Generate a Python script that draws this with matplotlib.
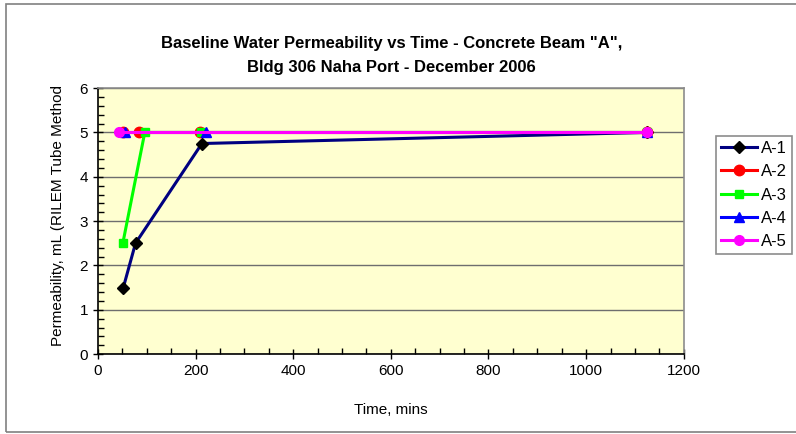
import matplotlib
matplotlib.use('Agg')
import matplotlib.pyplot as plt
from matplotlib.patches import Rectangle
from matplotlib.ticker import MultipleLocator

plt.rcParams['font.family'] = ['Liberation Sans', 'DejaVu Sans']

# ── Data ──────────────────────────────────────────────────
a1_t = [52, 77, 213, 1125]
a1_p = [1.5, 2.5, 4.75, 5.0]
a2_t = [51, 84, 209, 1125]
a2_p = [5.0, 5.0, 5.0, 5.0]
a3_t = [51, 96, 211, 1125]
a3_p = [2.5, 5.0, 5.0, 5.0]
a4_t = [55, 222, 1125]
a4_p = [5.0, 5.0, 5.0]
a5_t = [43, 1125]
a5_p = [5.0, 5.0]

series = [
    ('A-1', a1_t, a1_p, '#000080', 'D', 'black', 6.5),
    ('A-2', a2_t, a2_p, '#FF0000', 'o', '#FF0000', 7.5),
    ('A-3', a3_t, a3_p, '#00FF00', 's', '#00FF00', 6),
    ('A-4', a4_t, a4_p, '#0000FF', '^', '#0000FF', 7),
    ('A-5', a5_t, a5_p, '#FF00FF', 'o', '#FF00FF', 7),
]

fig = plt.figure(figsize=(7.96, 4.34), dpi=100)
fig.patches.append(Rectangle((0.008, 0.005), 1.2, 0.985, transform=fig.transFigure,
                             fill=False, edgecolor='#808080', linewidth=1.2))

ax = fig.add_axes([0.123, 0.184, 0.736, 0.613])
ax.set_facecolor('#FFFFD0')

for lbl, t, p, c, m, mc, ms in series:
    ax.plot(t, p, color=c, linewidth=2.2, marker=m, markersize=ms,
            markerfacecolor=mc, markeredgecolor=mc, label=lbl, zorder=3)

ax.set_xlim(0, 1200)
ax.set_ylim(0, 6)
ax.xaxis.set_major_locator(MultipleLocator(200))
ax.xaxis.set_minor_locator(MultipleLocator(50))
ax.yaxis.set_major_locator(MultipleLocator(1))
ax.yaxis.set_minor_locator(MultipleLocator(0.2))
ax.tick_params(which='major', direction='inout', length=7, width=1, labelsize=11)
ax.tick_params(which='minor', direction='in', length=4, width=1)
ax.grid(axis='y', which='major', color='#6e6e6e', linewidth=1, zorder=1)
ax.set_axisbelow(True)

for s in ['top', 'right']:
    ax.spines[s].set_color('#8c8c8c')
    ax.spines[s].set_linewidth(1.2)
for s in ['left', 'bottom']:
    ax.spines[s].set_color('black')
    ax.spines[s].set_linewidth(1.2)

ax.set_xlabel('Time, mins', fontsize=11, labelpad=18)
ax.set_ylabel('Permeability, mL (RILEM Tube Method', fontsize=11)
ax.yaxis.set_label_coords(-0.057, 0.52)

fig.text(0.492, 0.872, 'Baseline Water Permeability vs Time - Concrete Beam "A",\nBldg 306 Naha Port - December 2006',
         ha='center', va='center', fontsize=12, fontweight='bold', linespacing=1.7)

leg = ax.legend(loc='upper left', bbox_to_anchor=(0.899, 0.687), bbox_transform=fig.transFigure,
                fontsize=12, frameon=True, fancybox=False, borderpad=0.3, labelspacing=0.5,
                handlelength=2.2, handletextpad=0.2, borderaxespad=0)
leg.get_frame().set_edgecolor('#707070')
leg.get_frame().set_linewidth(1.2)

plt.savefig('out.png', dpi=100)
